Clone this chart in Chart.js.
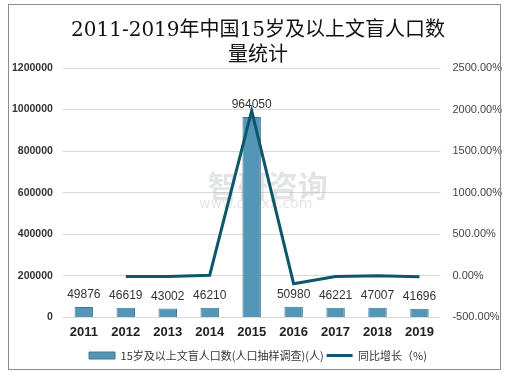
<!DOCTYPE html>
<html>
<head>
<meta charset="utf-8">
<script src="https://cdn.jsdelivr.net/npm/chart.js@4"></script>
<style>
  body { margin: 0; background: #fff; }
  #wrap { position: relative; width: 508px; height: 376px; }
  #frame { position: absolute; left: 8px; top: 4px; width: 493px; height: 366px; border: 1px solid #8c8c8c; box-sizing: border-box; }
</style>
</head>
<body>
<div id="wrap">
  <div id="frame"></div>
  <canvas id="illiterateChart" width="508" height="376"></canvas>
</div>
<script>
const years = ['2011', '2012', '2013', '2014', '2015', '2016', '2017', '2018', '2019'];
const illiterate = [49876, 46619, 43002, 46210, 964050, 50980, 46221, 47007, 41696];
const growth = [null, -6.53, -7.76, 7.46, 1986.26, -94.71, -9.34, 1.70, -11.30];
const leftTicks = [0, 200000, 400000, 600000, 800000, 1000000, 1200000];
const rightTicks = [-500, 0, 500, 1000, 1500, 2000, 2500];

// bar value labels
const barLabels = {
    id: 'barLabels',
    afterDatasetsDraw(chart) {
        const ctx = chart.ctx;
        const meta = chart.getDatasetMeta(0);
        ctx.save();
        ctx.font = '12px "Liberation Sans", Arial, sans-serif';
        ctx.fillStyle = '#333';
        ctx.textAlign = 'center';
        ctx.textBaseline = 'bottom';
        meta.data.forEach((bar, i) => {
            ctx.fillText(illiterate[i], bar.x, bar.y - 6);
        });
        ctx.restore();
    }
};

// faint watermark behind the marks
const watermark = {
    id: 'watermark',
    beforeDatasetsDraw(chart) {
        const {ctx, chartArea} = chart;
        const cx = (chartArea.left + chartArea.right) / 2;
        ctx.save();
        ctx.fillStyle = 'rgba(190,195,200,0.45)';
        ctx.textAlign = 'center';
        ctx.font = 'bold 30px "Noto Sans CJK SC", sans-serif';
        ctx.fillText('智研咨询', cx + 16, 186);
        ctx.font = '14px "DejaVu Sans", sans-serif';
        ctx.fillText('www.chyxx.com', cx + 4, 204);
        ctx.restore();
    }
};

const config = {
    type: 'bar',
    data: {
        labels: years,
        datasets: [{
            type: 'bar',
            label: '15岁及以上文盲人口数(人口抽样调查)(人)',
            data: illiterate,
            yAxisID: 'y',
            backgroundColor: '#5496b6',
            borderColor: '#3f7894',
            borderWidth: 1,
            barPercentage: 0.44,
            categoryPercentage: 1,
            pointStyle: 'rect',
            order: 2
        }, {
            type: 'line',
            label: '同比增长（%)',
            data: growth,
            yAxisID: 'y1',
            borderColor: '#0d566b',
            backgroundColor: '#0d566b',
            borderWidth: 3,
            pointRadius: 0,
            tension: 0,
            pointStyle: 'line',
            order: 1
        }]
    },
    options: {
        responsive: false,
        animation: false,
        layout: {padding: {left: 2, right: -6, top: 0, bottom: 5}},
        plugins: {
            title: {
                display: true,
                text: ['2011-2019年中国15岁及以上文盲人口数', '量统计'],
                color: '#111',
                font: {family: '"DejaVu Serif", "Noto Sans CJK SC", serif', size: 20, weight: 'normal', lineHeight: 1.25},
                padding: {top: 18, bottom: 0}
            },
            legend: {
                position: 'bottom',
                labels: {
                    usePointStyle: true,
                    pointStyleWidth: 26,
                    boxHeight: 7,
                    color: '#333',
                    padding: 3,
                    sort: (a, b) => a.datasetIndex - b.datasetIndex,
                    font: {family: '"Noto Sans CJK SC", sans-serif', size: 11}
                }
            },
            tooltip: {enabled: false}
        },
        scales: {
            x: {
                grid: {display: false, drawTicks: false},
                border: {display: false},
                ticks: {color: '#222', font: {family: '"Liberation Sans", Arial, sans-serif', size: 13, weight: 'bold'}, padding: 7}
            },
            y: {
                position: 'left',
                min: 0,
                max: 1200000,
                afterBuildTicks: (axis) => { axis.ticks = leftTicks.map(v => ({value: v})); },
                grid: {color: '#d9d9d9', drawTicks: false},
                border: {display: false},
                ticks: {
                    color: '#333',
                    padding: 10,
                    font: {family: '"Liberation Sans", Arial, sans-serif', size: 10.5, weight: 'bold'},
                    callback: (v) => String(v)
                }
            },
            y1: {
                position: 'right',
                min: -500,
                max: 2500,
                afterBuildTicks: (axis) => { axis.ticks = rightTicks.map(v => ({value: v})); },
                grid: {display: false, drawTicks: false},
                border: {display: false},
                ticks: {
                    color: '#444',
                    padding: 12,
                    font: {family: '"Liberation Sans", Arial, sans-serif', size: 11},
                    callback: (v) => v.toFixed(2) + '%'
                }
            }
        }
    },
    plugins: [watermark, barLabels]
};

const illiterateChart = new Chart(document.getElementById('illiterateChart'), config);
</script>
</body>
</html>
